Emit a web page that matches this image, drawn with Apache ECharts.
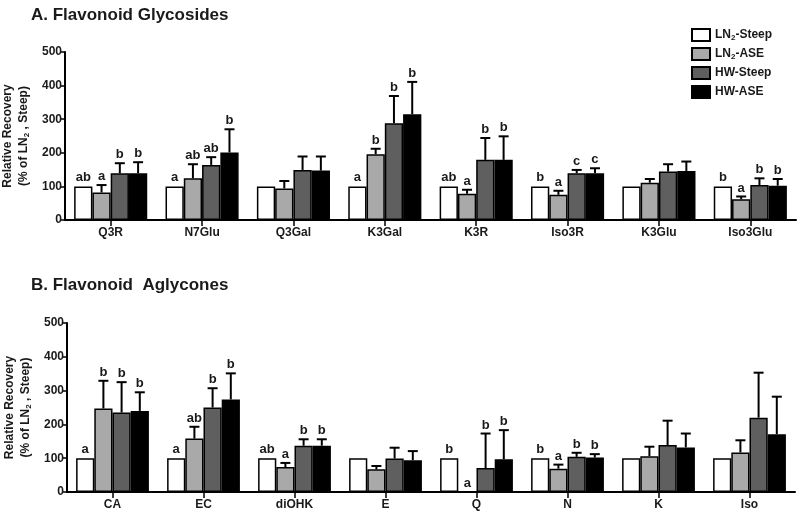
<!DOCTYPE html>
<html><head><meta charset="utf-8">
<script src="https://cdn.jsdelivr.net/npm/echarts@6/dist/echarts.min.js"></script>
<style>html,body{margin:0;padding:0;background:#fff}#c{width:800px;height:512px}</style>
</head><body><div id="c"></div>
<script>
// ---- data ----
const groupNames = ['LN2-Steep', 'LN2-ASE', 'HW-Steep', 'HW-ASE'];

const catsA = ['Q3R', 'N7Glu', 'Q3Gal', 'K3Gal', 'K3R', 'Iso3R', 'K3Glu', 'Iso3Glu'];
const aLN2Steep = [100, 100, 100, 100, 100, 100, 100, 100];
const aLN2ASE   = [82, 124, 94, 196, 78, 75, 111, 62];
const aHWSteep  = [139, 164, 149, 288, 179, 139, 144, 104];
const aHWASE    = [139, 201, 147, 315, 179, 139, 146, 102];
const aLN2SteepHi = [100, 100, 100, 100, 100, 100, 100, 100];
const aLN2ASEHi   = [104, 166, 116, 212, 90, 87, 122, 70];
const aHWSteepHi  = [169, 187, 189, 369, 244, 149, 166, 124];
const aHWASEHi    = [172, 270, 189, 411, 249, 154, 174, 122];
const aLN2SteepLbl = ['ab', 'a', '', 'a', 'ab', 'b', '', 'b'];
const aLN2ASELbl   = ['a', 'ab', '', 'b', 'a', 'a', '', 'a'];
const aHWSteepLbl  = ['b', 'ab', '', 'b', 'b', 'c', '', 'b'];
const aHWASELbl    = ['b', 'b', '', 'b', 'b', 'c', '', 'b'];

const catsB = ['CA', 'EC', 'diOHK', 'E', 'Q', 'N', 'K', 'Iso'];
const bLN2Steep = [100, 100, 100, 100, 100, 100, 100, 100];
const bLN2ASE   = [247, 158, 74, 67, 0, 69, 106, 117];
const bHWSteep  = [235, 250, 137, 99, 71, 104, 139, 220];
const bHWASE    = [240, 274, 137, 94, 97, 102, 132, 171];
const bLN2SteepHi = [100, 100, 100, 100, 100, 100, 100, 100];
const bLN2ASEHi   = [329, 193, 86, 77, 0, 81, 134, 153];
const bHWSteepHi  = [325, 307, 156, 131, 173, 116, 211, 353];
const bHWASEHi    = [295, 351, 156, 121, 183, 112, 173, 282];
const bLN2SteepLbl = ['a', 'a', 'ab', '', 'b', 'b', '', ''];
const bLN2ASELbl   = ['b', 'ab', 'a', '', 'a', 'a', '', ''];
const bHWSteepLbl  = ['b', 'b', 'b', '', 'b', 'b', '', ''];
const bHWASELbl    = ['b', 'b', 'b', '', 'b', 'b', '', ''];

const yTicks = [0, 100, 200, 300, 400, 500];

// ---- styling ----
const fills = ['#ffffff', '#a9a9a9', '#5f5f5f', '#000000'];
const txt = '#1a1a1a';
const FONT = 'Liberation Sans, Arial, sans-serif';

const panels = [
  { cats: catsA, vals: [aLN2Steep, aLN2ASE, aHWSteep, aHWASE],
    his: [aLN2SteepHi, aLN2ASEHi, aHWSteepHi, aHWASEHi],
    lbls: [aLN2SteepLbl, aLN2ASELbl, aHWSteepLbl, aHWASELbl] },
  { cats: catsB, vals: [bLN2Steep, bLN2ASE, bHWSteep, bHWASE],
    his: [bLN2SteepHi, bLN2ASEHi, bHWSteepHi, bHWASEHi],
    lbls: [bLN2SteepLbl, bLN2ASELbl, bHWSteepLbl, bHWASELbl] }
];

const grids = [
  { left: 65, right: 4, top: 52, height: 168, outerBoundsMode: 'none', containLabel: false },
  { left: 67, right: 5, top: 323, height: 169, outerBoundsMode: 'none', containLabel: false }
];

const rich = {
  t: { fontSize: 12, fontWeight: 'bold', color: txt, fontFamily: FONT, lineHeight: 16 },
  s: { fontSize: 8, fontWeight: 'bold', color: txt, fontFamily: FONT, padding: [6, 0, 0, 0], lineHeight: 16 }
};

const xAxes = [], yAxes = [], series = [];
panels.forEach((p, gi) => {
  xAxes.push({
    type: 'category', gridIndex: gi, data: p.cats,
    axisLine: { lineStyle: { color: '#000', width: 2 } },
    axisTick: { show: true, alignWithLabel: true, length: 6, lineStyle: { color: '#000', width: 1.5 } },
    axisLabel: { color: txt, fontWeight: 'bold', fontSize: 12, fontFamily: FONT, margin: 7 }
  });
  yAxes.push({
    type: 'value', gridIndex: gi, min: 0, max: 500, interval: 100,
    splitLine: { show: false },
    axisLine: { show: true, lineStyle: { color: '#000', width: 2 } },
    axisTick: { show: true, length: 5, lineStyle: { color: '#000', width: 1.5 } },
    axisLabel: { color: txt, fontWeight: 'bold', fontSize: 12, fontFamily: FONT, margin: 3,
      formatter: v => (yTicks.indexOf(v) >= 0 ? String(v) : '') },
    name: '{t|Relative Recovery}\n{t|(% of LN}{s|2}{t| , Steep)}',
    nameLocation: 'middle', nameRotate: 90, nameGap: 29,
    nameTextStyle: { rich: rich }
  });
  p.vals.forEach((arr, k) => {
    series.push({
      type: 'bar', name: groupNames[k], xAxisIndex: gi, yAxisIndex: gi,
      data: arr, barGap: '0%', barCategoryGap: '20%',
      itemStyle: { color: fills[k], borderColor: '#000', borderWidth: 1.5 },
      emphasis: { disabled: true }, animation: false
    });
  });
  const errData = [], errLbl = [];
  p.vals.forEach((arr, k) => {
    arr.forEach((v, ci) => {
      errData.push([ci, k, v, p.his[k][ci]]);
      errLbl.push(p.lbls[k][ci]);
    });
  });
  series.push({
    type: 'custom', xAxisIndex: gi, yAxisIndex: gi, data: errData, z: 5,
    animation: false, silent: true,
    renderItem: function (params, api) {
      const ci = api.value(0), k = api.value(1), v = api.value(2), hi = api.value(3);
      const band = api.size([1, 0])[0];
      const bw = band * 0.8 / 4;
      const x = api.coord([ci, 0])[0] + (k - 1.5) * bw;
      const yTop = api.coord([ci, v])[1];
      const yHi = api.coord([ci, hi])[1];
      const children = [];
      if (hi > v) {
        children.push({ type: 'line', shape: { x1: x, y1: yTop, x2: x, y2: yHi },
          style: { stroke: '#000', lineWidth: 2 } });
        children.push({ type: 'line', shape: { x1: x - 5, y1: yHi, x2: x + 5, y2: yHi },
          style: { stroke: '#000', lineWidth: 2 } });
      }
      const lb = errLbl[params.dataIndex];
      if (lb) {
        children.push({ type: 'text', x: x, y: Math.min(yHi, yTop) - 2,
          style: { text: lb, fill: txt, font: 'bold 13px ' + FONT,
            align: 'center', verticalAlign: 'bottom', textAlign: 'center', textVerticalAlign: 'bottom' } });
      }
      return { type: 'group', children: children };
    }
  });
});

const chart = echarts.init(document.getElementById('c'), null, { renderer: 'canvas' });
chart.setOption({
  backgroundColor: '#fff',
  animation: false,
  title: [
    { text: 'A. Flavonoid Glycosides', left: 26, top: 2,
      textStyle: { fontSize: 17, fontWeight: 'bold', color: txt, fontFamily: FONT } },
    { text: 'B. Flavonoid  Aglycones', left: 26, top: 272,
      textStyle: { fontSize: 17, fontWeight: 'bold', color: txt, fontFamily: FONT } }
  ],
  legend: {
    data: groupNames, orient: 'vertical', left: 686, top: 23,
    itemWidth: 18, itemHeight: 12, itemGap: 5, icon: 'rect',
    selectedMode: false,
    formatter: function (n) {
      if (n.indexOf('LN2') === 0) return '{t|LN}{s|2}{t|' + n.slice(3) + '}';
      return '{t|' + n + '}';
    },
    textStyle: { rich: {
      t: { fontSize: 12, fontWeight: 'bold', color: txt, fontFamily: FONT },
      s: { fontSize: 8, fontWeight: 'bold', color: txt, fontFamily: FONT, padding: [6, 0, 0, 0] }
    } }
  },
  grid: grids,
  xAxis: xAxes,
  yAxis: yAxes,
  series: series
});
</script></body></html>
